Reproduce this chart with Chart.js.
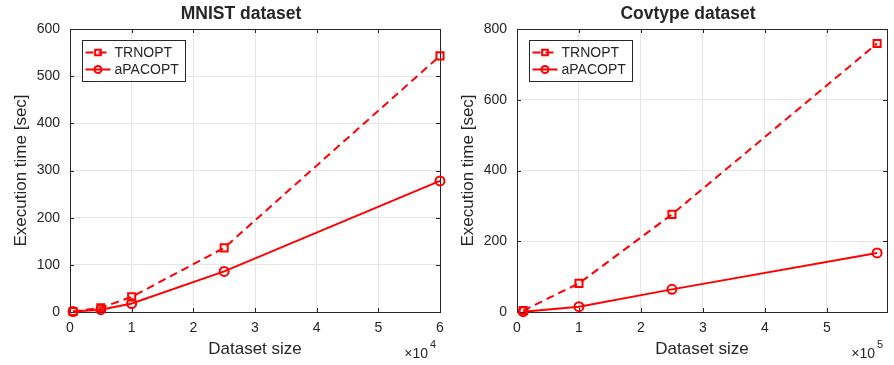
<!DOCTYPE html>
<html>
<head>
<meta charset="utf-8">
<script src="https://cdn.jsdelivr.net/npm/chart.js@4.4.1/dist/chart.umd.min.js"></script>
<style>
html, body { margin: 0; padding: 0; background: #fff; }
#wrap { position: relative; width: 894px; height: 365px; }
.panel { position: absolute; top: 0; width: 447px; height: 365px; }
</style>
</head>
<body>
<div id="wrap">
    <div class="panel" style="left:0"><canvas id="mnist" width="447" height="365"></canvas></div>
    <div class="panel" style="left:447px"><canvas id="covtype" width="447" height="365"></canvas></div>
</div>
<script>
// values
const mnistSizes = [500, 5000, 10000, 25000, 60000];
const mnistTrnopt = [1, 9, 32, 136, 543];
const mnistApacopt = [1, 5, 18, 86, 278];

const covtypeSizes = [10000, 100000, 250000, 581012];
const covtypeTrnopt = [4, 81, 276, 759];
const covtypeApacopt = [1, 15, 64, 167];

const seriesLabels = ['TRNOPT', 'aPACOPT'];

const axisColor = '#262626';
const gridColor = '#e6e6e6';
const red = '#ff0000';
const fontFamily = '"Liberation Sans", Arial, Helvetica, sans-serif';

const toPoints = (xs, ys) => xs.map((x, i) => ({ x: x, y: ys[i] }));

// box, inward ticks, legend and the x10^n label, matlab style
const matlabAxes = {
    id: 'matlabAxes',
    afterLayout(chart) {
        // the titles sit a bit left of the axes centre in the original
        const tb = chart.titleBlock;
        if (tb) {
            tb.left -= 14;
            tb.right -= 14;
        }
    },
    beforeDatasetsDraw(chart) {
        const ctx = chart.ctx;
        const ca = chart.chartArea;
        const xs = chart.scales.x;
        const ys = chart.scales.y;
        ctx.save();
        ctx.strokeStyle = axisColor;
        ctx.lineWidth = 1;
        ctx.beginPath();
        xs.ticks.forEach(t => {
            const px = Math.round(xs.getPixelForValue(t.value)) + 0.5;
            ctx.moveTo(px, ca.bottom); ctx.lineTo(px, ca.bottom - 4);
            ctx.moveTo(px, ca.top); ctx.lineTo(px, ca.top + 4);
        });
        ys.ticks.forEach(t => {
            const py = Math.round(ys.getPixelForValue(t.value)) + 0.5;
            ctx.moveTo(ca.left, py); ctx.lineTo(ca.left + 4, py);
            ctx.moveTo(ca.right, py); ctx.lineTo(ca.right - 4, py);
        });
        ctx.stroke();
        ctx.strokeRect(Math.round(ca.left) + 0.5, Math.round(ca.top) + 0.5,
            Math.round(ca.right - ca.left), Math.round(ca.bottom - ca.top));
        ctx.restore();
    },
    afterDatasetsDraw(chart, args, opts) {
        const ctx = chart.ctx;
        const ca = chart.chartArea;
        ctx.save();

        // legend
        const bx = Math.round(ca.left + 12) + 0.5;
        const by = Math.round(ca.top + 11) + 0.5;
        ctx.fillStyle = '#fff';
        ctx.fillRect(bx, by, 103, 41);
        ctx.strokeStyle = axisColor;
        ctx.lineWidth = 1;
        ctx.strokeRect(bx, by, 103, 41);

        chart.data.datasets.forEach((ds, i) => {
            const ry = by + 12 + i * 17;
            ctx.strokeStyle = ds.borderColor;
            ctx.lineWidth = ds.borderWidth;
            ctx.setLineDash(ds.borderDash || []);
            ctx.beginPath();
            ctx.moveTo(bx + 3, ry);
            ctx.lineTo(bx + 28, ry);
            ctx.stroke();
            ctx.setLineDash([]);
            ctx.fillStyle = 'rgba(0,0,0,0)';
            ctx.lineWidth = ds.pointBorderWidth;
            Chart.helpers.drawPoint(ctx, {
                pointStyle: ds.pointStyle,
                radius: ds.pointRadius - 1,
                borderWidth: ds.pointBorderWidth
            }, bx + 15.5, ry);

            ctx.fillStyle = axisColor;
            ctx.font = '14px ' + fontFamily;
            ctx.textAlign = 'left';
            ctx.textBaseline = 'middle';
            ctx.fillText(ds.label, bx + 32, ry + 1);
        });

        // exponent label under the x axis
        ctx.fillStyle = axisColor;
        ctx.textBaseline = 'middle';
        ctx.textAlign = 'right';
        ctx.font = '14px ' + fontFamily;
        ctx.fillText('\u00d710', ca.right - 12, 354);
        ctx.textAlign = 'left';
        ctx.font = '11px ' + fontFamily;
        ctx.fillText(String(opts.exponent), ca.right - 10, 345);
        ctx.restore();
    }
};

const makeDatasets = (sizes, trn, apac) => [
    {
        label: seriesLabels[0],
        data: toPoints(sizes, trn),
        borderColor: red,
        backgroundColor: 'rgba(0,0,0,0)',
        borderWidth: 2,
        borderDash: [8, 5],
        pointStyle: 'rect',
        pointRadius: 5,
        pointBorderWidth: 2,
        pointBorderColor: red,
        pointBackgroundColor: 'rgba(0,0,0,0)',
        clip: false
    },
    {
        label: seriesLabels[1],
        data: toPoints(sizes, apac),
        borderColor: red,
        backgroundColor: 'rgba(0,0,0,0)',
        borderWidth: 2,
        pointStyle: 'circle',
        pointRadius: 4.5,
        pointBorderWidth: 2,
        pointBorderColor: red,
        pointBackgroundColor: 'rgba(0,0,0,0)',
        clip: false
    }
];

const renderChart = (canvas, cfg) => new Chart(canvas, {
    type: 'line',
    data: { datasets: makeDatasets(cfg.sizes, cfg.trn, cfg.apac) },
    options: {
        responsive: false,
        animation: false,
        layout: { padding: { left: 0, right: 5, top: 0, bottom: 0 } },
        plugins: {
            legend: { display: false },
            tooltip: { enabled: false },
            title: {
                display: true,
                text: cfg.title,
                fullSize: false,
                color: axisColor,
                font: { family: fontFamily, size: 17.5, weight: 'bold' },
                padding: { top: 4, bottom: 4 }
            },
            matlabAxes: { exponent: cfg.exponent }
        },
        scales: {
            x: {
                type: 'linear',
                min: 0,
                max: cfg.xMax,
                afterBuildTicks: s => {
                    s.ticks = cfg.xTicks.map(v => ({ value: v * cfg.xStep }));
                },
                afterFit: s => {
                    s.height = 53;
                    s.paddingLeft = 0;
                    s.paddingRight = 0;
                },
                border: { display: false },
                grid: { color: gridColor, drawTicks: false },
                ticks: {
                    autoSkip: false,
                    maxRotation: 0,
                    padding: 8,
                    color: axisColor,
                    font: { family: fontFamily, size: 14 },
                    callback: v => v / cfg.xStep
                },
                title: {
                    display: true,
                    text: 'Dataset size',
                    color: axisColor,
                    font: { family: fontFamily, size: 17 },
                    padding: { top: 0, bottom: 5 }
                }
            },
            y: {
                min: 0,
                max: cfg.yMax,
                afterFit: s => {
                    s.width = 70;
                    s.paddingTop = 0;
                    s.paddingBottom = 0;
                },
                border: { display: false },
                grid: { color: gridColor, drawTicks: false },
                ticks: {
                    stepSize: cfg.yStep,
                    autoSkip: false,
                    padding: 10,
                    color: axisColor,
                    font: { family: fontFamily, size: 14 }
                },
                title: {
                    display: true,
                    text: 'Execution time [sec]',
                    color: axisColor,
                    font: { family: fontFamily, size: 17 },
                    padding: { top: 11, bottom: 0 }
                }
            }
        }
    },
    plugins: [matlabAxes]
});

renderChart(document.getElementById('mnist'), {
    title: 'MNIST dataset',
    sizes: mnistSizes, trn: mnistTrnopt, apac: mnistApacopt,
    xMax: 60000, xStep: 10000, xTicks: [0, 1, 2, 3, 4, 5, 6], exponent: 4,
    yMax: 600, yStep: 100
});

renderChart(document.getElementById('covtype'), {
    title: 'Covtype dataset',
    sizes: covtypeSizes, trn: covtypeTrnopt, apac: covtypeApacopt,
    xMax: 597000, xStep: 100000, xTicks: [0, 1, 2, 3, 4, 5], exponent: 5,
    yMax: 800, yStep: 200
});
</script>
</body>
</html>
